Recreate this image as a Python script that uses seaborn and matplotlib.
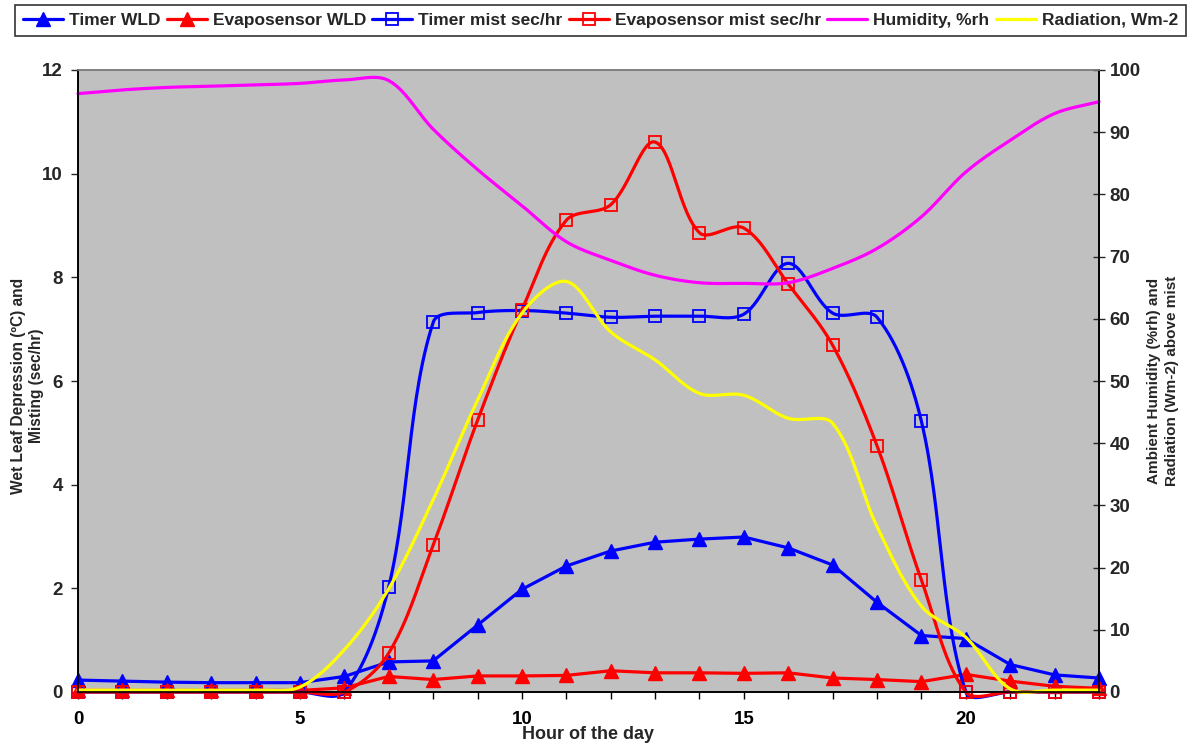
import numpy as np
import pandas as pd
import matplotlib
matplotlib.use("Agg")
import matplotlib.pyplot as plt
from matplotlib.lines import Line2D
from matplotlib.ticker import MultipleLocator
import seaborn as sns

# Hourly readings
hours = list(range(24))
timer_wld = [0.23, 0.21, 0.19, 0.18, 0.18, 0.18, 0.30, 0.58, 0.60, 1.29, 1.98, 2.43,
             2.72, 2.89, 2.95, 2.99, 2.78, 2.45, 1.73, 1.09, 1.03, 0.53, 0.33, 0.27]
evapo_wld = [0.03, 0.03, 0.03, 0.03, 0.03, 0.03, 0.08, 0.30, 0.24, 0.31, 0.31, 0.32,
             0.41, 0.37, 0.37, 0.36, 0.37, 0.27, 0.24, 0.20, 0.34, 0.21, 0.11, 0.07]
timer_mist = [0, 0, 0, 0, 0, 0, 0, 2.03, 7.13, 7.32, 7.36, 7.31,
              7.23, 7.25, 7.25, 7.29, 8.27, 7.31, 7.23, 5.22, 0, 0, 0, 0]
evapo_mist = [0, 0, 0, 0, 0, 0, 0, 0.75, 2.83, 5.24, 7.37, 9.10,
              9.40, 10.61, 8.86, 8.95, 7.87, 6.69, 4.75, 2.16, 0, 0, 0, 0]
humidity = [96.2, 96.8, 97.2, 97.4, 97.6, 97.85, 98.4, 98.3, 90.5, 84.0, 78.2, 72.4,
            69.4, 67.0, 65.8, 65.7, 65.8, 68.1, 71.3, 76.4, 83.6, 88.7, 93.0, 94.9]
radiation = [0.3, 0.3, 0.3, 0.3, 0.3, 0.8, 6.8, 16.6, 30.9, 46.9, 60.9, 66.0,
             57.9, 53.4, 48.0, 47.7, 44.0, 43.2, 26.6, 13.8, 8.8, 0.5, 0.3, 0.3]

labels = ["Timer WLD", "Evaposensor WLD", "Timer mist sec/hr",
          "Evaposensor mist sec/hr", "Humidity, %rh", "Radiation, Wm-2"]

FIG_W, FIG_H = 1194, 747
AX_L, AX_R, AX_T, AX_B = 78, 1099, 70, 692
X_MAX, Y1_MAX, Y2_MAX = 23, 12, 100


def smooth_curve(x, y, sx, sy, n=30):
    """Bezier smoothing through the points, with control arms scaled by the
    on-screen length of the neighbouring segments (spreadsheet-style smooth line)."""
    P = np.column_stack([np.asarray(x, float) * sx, np.asarray(y, float) * sy])
    N = len(P)
    t = np.linspace(0, 1, n, endpoint=False)[:, None]
    parts = []
    for i in range(N - 1):
        p0 = P[i - 1] if i > 0 else P[i]
        p1, p2 = P[i], P[i + 1]
        p3 = P[i + 2] if i + 2 < N else P[i + 1]
        d01 = np.hypot(*(p1 - p0))
        d12 = np.hypot(*(p2 - p1))
        d23 = np.hypot(*(p3 - p2))
        c1 = p1 + (p2 - p0) * (d12 / (d01 + d12)) / 3 if d01 + d12 > 0 else p1
        c2 = p2 - (p3 - p1) * (d12 / (d12 + d23)) / 3 if d12 + d23 > 0 else p2
        parts.append((1 - t) ** 3 * p1 + 3 * (1 - t) ** 2 * t * c1
                     + 3 * (1 - t) * t ** 2 * c2 + t ** 3 * p2)
    parts.append(P[-1:])
    arr = np.vstack(parts)
    return pd.DataFrame({"x": arr[:, 0] / sx, "y": arr[:, 1] / sy})


sns.set_style("ticks")
plt.rcParams["font.family"] = ["Liberation Sans", "DejaVu Sans"]
plt.rcParams["font.weight"] = "bold"

fig = plt.figure(figsize=(FIG_W / 100, FIG_H / 100), dpi=100)
ax = fig.add_axes([AX_L / FIG_W, 1 - AX_B / FIG_H,
                   (AX_R - AX_L) / FIG_W, (AX_B - AX_T) / FIG_H])
ax.set_facecolor("#C0C0C0")
ax2 = ax.twinx()

# screen pixels per data unit, used for the smoothing arms
sx = (AX_R - AX_L) / X_MAX
sy1 = (AX_B - AX_T) / Y1_MAX
sy2 = (AX_B - AX_T) / Y2_MAX

lw = 2.3
BLUE, RED, MAG, YEL = "#0000FF", "#FF0000", "#FF00FF", "#FFFF00"

df = pd.DataFrame({"hour": hours, "timer_wld": timer_wld, "evapo_wld": evapo_wld,
                   "timer_mist": timer_mist, "evapo_mist": evapo_mist,
                   "humidity": humidity, "radiation": radiation})

# Wet leaf depression: straight segments with filled triangles
for col, c in (("timer_wld", BLUE), ("evapo_wld", RED)):
    sns.lineplot(data=df, x="hour", y=col, ax=ax, color=c, lw=lw, estimator=None,
                 zorder=3)
    sns.lineplot(data=df, x="hour", y=col, ax=ax, color=c, linestyle="", marker="^",
                 markersize=10.5, markerfacecolor=c, markeredgecolor=c, mew=1,
                 estimator=None, clip_on=False, zorder=4)

# Misting: smoothed curves with hollow squares
for col, c in (("timer_mist", BLUE), ("evapo_mist", RED)):
    sm = smooth_curve(df["hour"], df[col], sx, sy1)
    sns.lineplot(data=sm, x="x", y="y", ax=ax, color=c, lw=lw, estimator=None,
                 sort=False, zorder=5, clip_on=False)
    sns.lineplot(data=df, x="hour", y=col, ax=ax, color=c, linestyle="", marker="s",
                 markersize=8, markerfacecolor="none", markeredgecolor=c, mew=1.3,
                 estimator=None, clip_on=False, zorder=6)

# Ambient conditions on the secondary axis
for col, c in (("humidity", MAG), ("radiation", YEL)):
    sm = smooth_curve(df["hour"], df[col], sx, sy2)
    sns.lineplot(data=sm, x="x", y="y", ax=ax2, color=c, lw=lw, estimator=None,
                 sort=False, clip_on=False)

ax.set_xlim(0, X_MAX)
ax.set_ylim(0, Y1_MAX)
ax2.set_ylim(0, Y2_MAX)
ax.xaxis.set_major_locator(MultipleLocator(5))
ax.xaxis.set_minor_locator(MultipleLocator(1))
ax.yaxis.set_major_locator(MultipleLocator(2))
ax2.yaxis.set_major_locator(MultipleLocator(10))

tick_font = 13.5
ax.tick_params(axis="x", which="both", direction="out", length=5, width=1,
               pad=9, labelsize=tick_font, colors="black")
ax.tick_params(axis="y", direction="out", length=5, width=1, pad=6,
               labelsize=tick_font)
ax2.tick_params(axis="y", direction="inout", length=9, width=1, pad=3,
                labelsize=tick_font)

ax.set_xlabel("Hour of the day", fontsize=13, fontweight="bold", labelpad=-2)
ax.set_ylabel("")
ax2.set_ylabel("")
fig.text(28 / FIG_W, 1 - 386 / FIG_H, "Wet Leaf Depression (ºC) and\nMisting (sec/hr)",
         rotation=90, ha="center", va="center", fontsize=11.2, fontweight="bold",
         linespacing=1.25, multialignment="center")
fig.text(1163 / FIG_W, 1 - 381 / FIG_H,
         "Ambient Humidity (%rh) and\nRadiation (Wm-2) above mist",
         rotation=90, ha="center", va="center", fontsize=11, fontweight="bold",
         linespacing=1.35, multialignment="center")

for a in (ax, ax2):
    for side in ("left", "right", "bottom"):
        a.spines[side].set_color("black")
        a.spines[side].set_linewidth(1.2)
    a.spines["top"].set_color("#808080")
    a.spines["top"].set_linewidth(1.2)
ax2.patch.set_visible(False)

handles = [
    Line2D([], [], color=BLUE, lw=lw, marker="^", ms=10, mfc=BLUE, mec=BLUE),
    Line2D([], [], color=RED, lw=lw, marker="^", ms=10, mfc=RED, mec=RED),
    Line2D([], [], color=BLUE, lw=lw, marker="s", ms=8, mfc="none", mec=BLUE, mew=1.3),
    Line2D([], [], color=RED, lw=lw, marker="s", ms=8, mfc="none", mec=RED, mew=1.3),
    Line2D([], [], color=MAG, lw=lw),
    Line2D([], [], color=YEL, lw=lw),
]
leg = fig.legend(handles, labels, loc="upper left", ncol=6,
                 bbox_to_anchor=(15 / FIG_W, 1 - 5 / FIG_H, (1186 - 15) / FIG_W, 0),
                 mode="expand", frameon=True, fancybox=False, edgecolor="black",
                 fontsize=12.5, handlelength=2.3, handletextpad=0.35,
                 columnspacing=0.6, borderpad=0.45, borderaxespad=0)
leg.get_frame().set_linewidth(1.2)
for t in leg.get_texts():
    t.set_fontweight("bold")

fig.savefig("out.png", dpi=100)
